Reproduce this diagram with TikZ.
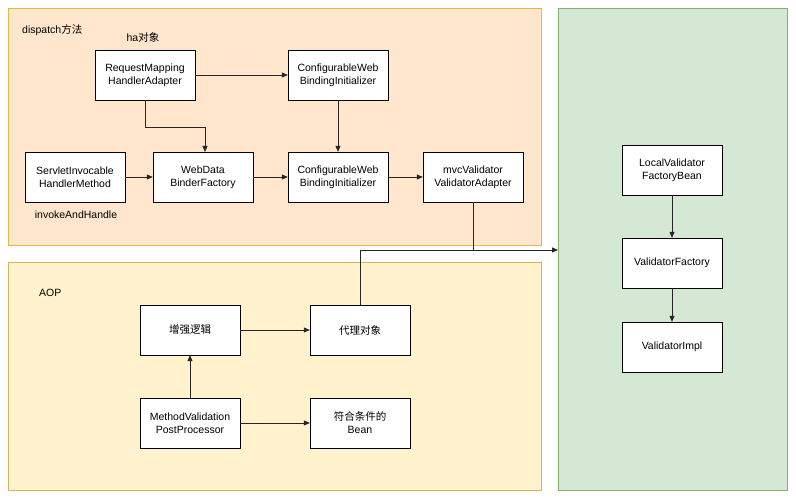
\documentclass[tikz,border=0pt]{standalone}
\usepackage{fontspec}
\setmainfont{Liberation Sans}
\newfontfamily\cjk{Noto Sans CJK SC}
\usetikzlibrary{arrows.meta}
\definecolor{orf}{HTML}{FFE6CC}\definecolor{ord}{HTML}{D79B00}
\definecolor{yef}{HTML}{FFF2CC}\definecolor{yed}{HTML}{D6B656}
\definecolor{grf}{HTML}{D5E8D4}\definecolor{grd}{HTML}{82B366}
\begin{document}
\begin{tikzpicture}[x=1pt,y=-1pt,
  box/.style={draw=black,fill=white,minimum width=100pt,minimum height=50pt,align=center,inner sep=1pt,font=\fontsize{10.5}{13}\selectfont},
  lbl/.style={font=\fontsize{10.5}{13}\selectfont,inner sep=0pt},
  arr/.style={draw=black!85,line width=0.8pt,-{Triangle[length=6pt,width=5pt]}}]
\useasboundingbox (0,0) rectangle (796,500);
\fill[white] (0,0) rectangle (796,500);
\draw[fill=orf,draw=ord!70] (8,8) rectangle (541,245);
\draw[fill=yef,draw=yed] (8,262) rectangle (541,490);
\draw[fill=grf,draw=grd] (558,8) rectangle (787,490);
\node[box] (rmha) at (145,75) {RequestMapping\\HandlerAdapter};
\node[box] (cw1) at (338,75) {ConfigurableWeb\\BindingInitializer};
\node[box] (sihm) at (75,177) {ServletInvocable\\HandlerMethod};
\node[box] (wdbf) at (203,177) {WebData\\BinderFactory};
\node[box] (cw2) at (338,177) {ConfigurableWeb\\BindingInitializer};
\node[box] (mvc) at (473,177) {mvcValidator\\ValidatorAdapter};
\node[box] (lvfb) at (672,170) {LocalValidator\\FactoryBean};
\node[box] (vf) at (672,263) {ValidatorFactory};
\node[box] (vi) at (672,347) {ValidatorImpl};
\node[box] (zq) at (190,330) {\cjk 增强逻辑};
\node[box] (dl) at (360,330) {\cjk 代理对象};
\node[box] (mvp) at (190,423) {MethodValidation\\PostProcessor};
\node[box] (fh) at (360,423) {{\cjk 符合条件的}\\Bean};
\node[lbl,anchor=west] (t1) at (22,30) {dispatch{\cjk 方法}};
\node[lbl] (t2) at (143,37) {ha{\cjk 对象}};
\node[lbl] (t3) at (76,215) {invokeAndHandle};
\node[lbl,anchor=west] (t4) at (39,293) {AOP};
\coordinate (g) at (558,250);
\draw[arr] (rmha) -- (cw1);
\draw[arr] (rmha.south) |- (205,127) -- (205,152);
\draw[arr] (cw1) -- (cw2);
\draw[arr] (sihm) -- (wdbf);
\draw[arr] (wdbf) -- (cw2);
\draw[arr] (cw2) -- (mvc);
\draw[draw=black!85,line width=0.8pt] (mvc.south) -- (473,250);
\draw[arr] (dl.north) |- (g);
\draw[arr] (zq) -- (dl);
\draw[arr] (mvp) -- (zq);
\draw[arr] (mvp) -- (fh);
\draw[arr] (lvfb) -- (vf);
\draw[arr] (vf) -- (vi);
\end{tikzpicture}
\end{document}
